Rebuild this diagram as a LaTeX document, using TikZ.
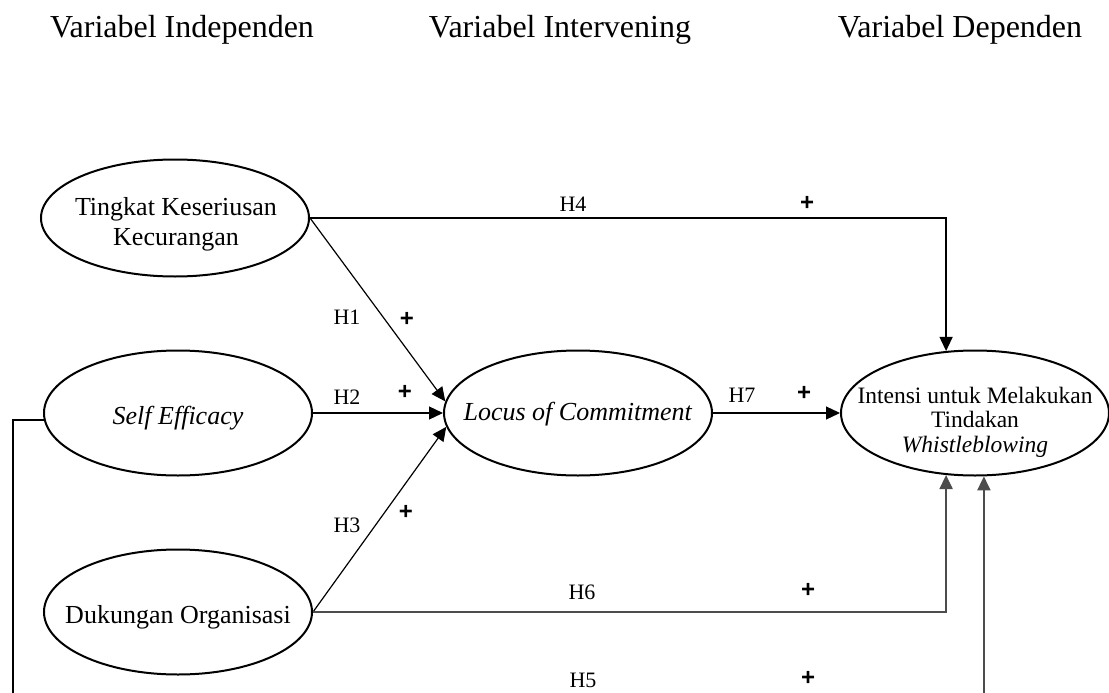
\documentclass[tikz,border=0pt]{standalone}
\usepackage{fontspec}
\setmainfont{Liberation Serif}
\newfontfamily\plusfont{Liberation Sans}
\usetikzlibrary{shapes.geometric,arrows.meta}
\begin{document}
\begin{tikzpicture}[x=1pt,y=-1pt,
  ell/.style={draw, ellipse, line width=2pt, minimum width=268pt, minimum height=125pt, inner sep=0pt},
  etext/.style={font=\fontsize{26}{30}\selectfont, align=center, inner sep=0pt},
  ttl/.style={font=\fontsize{32}{36}\selectfont, anchor=base, inner sep=0pt},
  hlab/.style={font=\fontsize{22}{24}\selectfont, inner sep=0pt},
  plab/.style={font=\plusfont\bfseries\fontsize{24}{24}\selectfont, inner sep=0pt},
  conn/.style={line width=1.2pt, -{Triangle[length=14pt,width=13pt]}},
  gconn/.style={line width=2pt, draw=black!70, -{Triangle[length=14pt,width=13pt]}},
  bline/.style={line width=1.2pt}]
\useasboundingbox (0,0) rectangle (1109,693);
\clip (0,0) rectangle (1109,693);

% titles
\node[ttl] (ti1) at (182,38) {Variabel Independen};
\node[ttl] (ti2) at (560,38) {Variabel Intervening};
\node[ttl] (ti3) at (960,38) {Variabel Dependen};

% ellipses
\node[ell, minimum height=117pt] (tk) at (175,218) {};
\node[etext] (tkt) at (176,224) {Tingkat Keseriusan\\Kecurangan};
\node[ell] (se) at (178,413) {};
\node[etext] (set) at (178,418) {\textit{Self Efficacy}};
\node[ell] (dk) at (178,612) {};
\node[etext] (dkt) at (178,617) {Dukungan Organisasi};
\node[ell] (loc) at (578,413) {};
\node[etext] (loct) at (578,414) {\textit{Locus of Commitment}};
\node[ell] (int) at (975,413) {};
\node[etext, font=\fontsize{23.5}{24.5}\selectfont] (intt) at (975,422) {Intensi untuk Melakukan\\Tindakan\\\textit{Whistleblowing}};

% connectors
\draw[conn] (tk.east) -| (int.115);
\draw[conn] (tk.east) -- (loc.175);
\draw[conn] (se.east) -- (loc.west);
\draw[conn] (dk.east) -- (loc.186);
\draw[conn] (loc.east) -- (int.west);
\draw[gconn] (dk.east) -| (int.245);
\coordinate (h5c) at (13,720);
\draw[bline] (se.183) -| (h5c);
\draw[gconn] (h5c) -| (int.278);

% labels
\node[hlab] (l4) at (573,204) {H4}; \node[plab] (p4) at (807,203) {+};
\node[hlab] (l1) at (347,317) {H1}; \node[plab] (p1) at (407,319) {+};
\node[hlab] (l2) at (347,397) {H2}; \node[plab] (p2) at (405,392) {+};
\node[hlab] (l3) at (347,525) {H3}; \node[plab] (p3) at (406,512) {+};
\node[hlab] (l7) at (742,395) {H7}; \node[plab] (p7) at (804,393) {+};
\node[hlab] (l6) at (582,592) {H6}; \node[plab] (p6) at (808,590) {+};
\node[hlab] (l5) at (583,680) {H5}; \node[plab] (p5) at (808,678) {+};
\end{tikzpicture}
\end{document}
